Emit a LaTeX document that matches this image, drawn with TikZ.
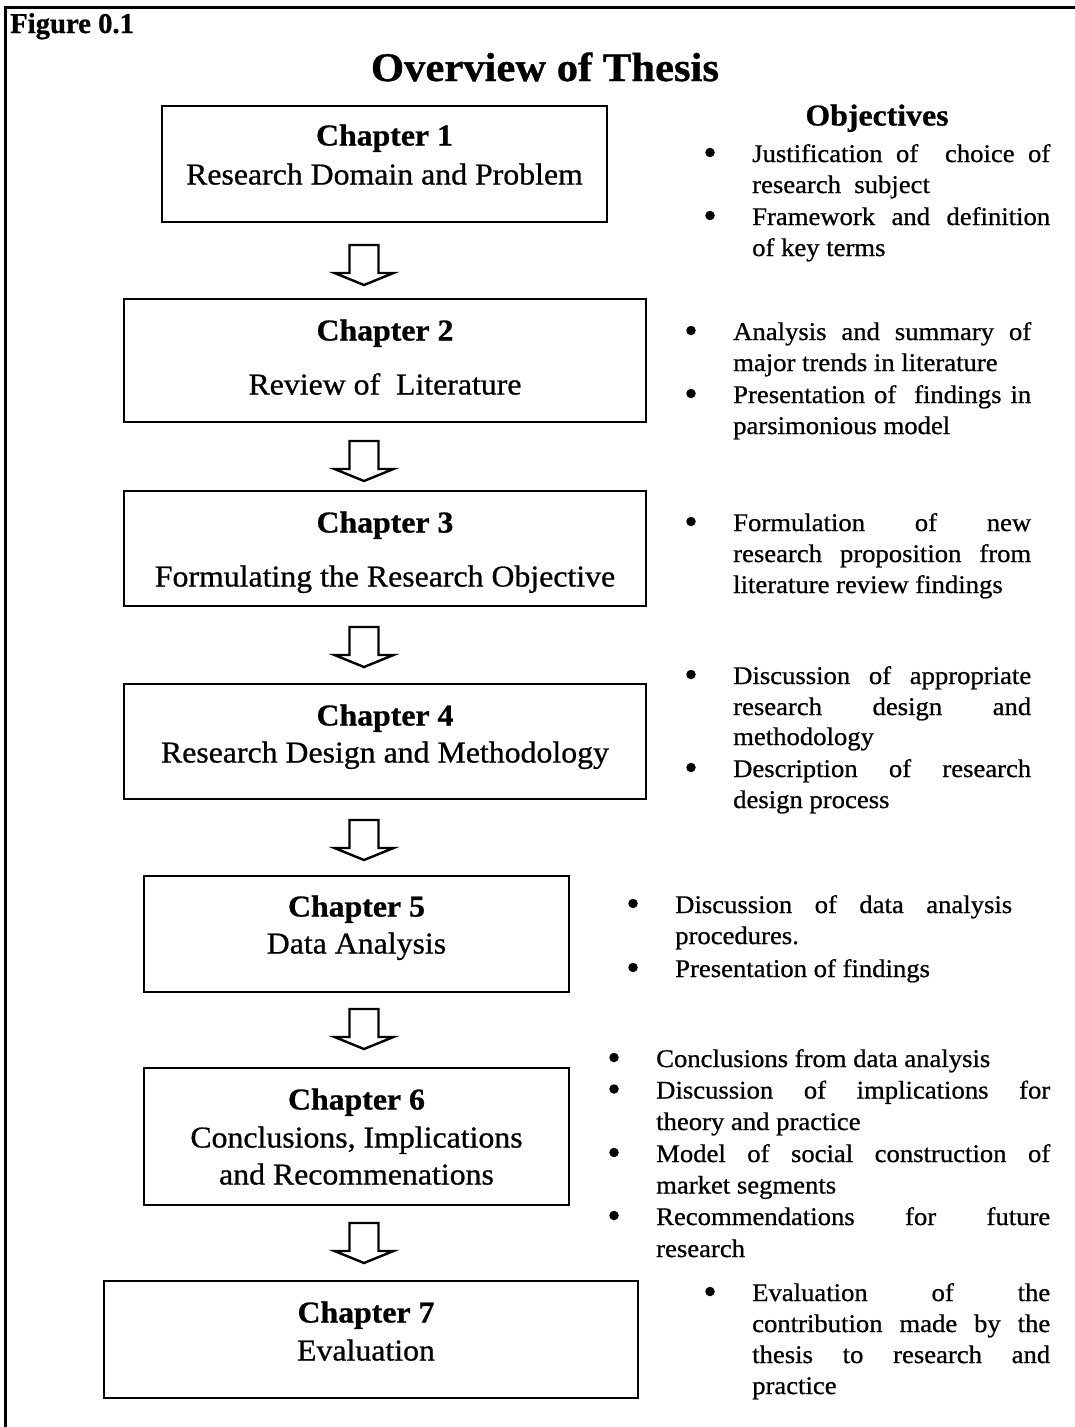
\documentclass[tikz,border=0pt]{standalone}
\usepackage{fontspec}
\setmainfont{Liberation Serif}[FakeStretch=1.05, FakeBold=0.8]
\newfontfamily\labelfont{Liberation Serif}[FakeBold=0.8]
\usetikzlibrary{calc}

\tikzset{
  chbox/.style={draw, line width=2.8pt, inner sep=0pt, fill=none},
  boxhead/.style={inner sep=0pt, anchor=base, font=\fontsize{30.3}{35}\selectfont\bfseries},
  boxtxt/.style={inner sep=0pt, anchor=base, font=\fontsize{30.3}{35}\selectfont},
  objtxt/.style={inner sep=0pt, anchor=base west, font=\fontsize{25.4}{30}\selectfont},
  dot/.style={circle, fill=black, inner sep=0pt, minimum size=9.5pt},
  blockarrow/.pic={
    \draw[line width=2.4pt, line join=miter]
      (-14.5,0) -- (-14.5,28) -- (-29.5,28) -- (0,40) -- (29.5,28)
      -- (14.5,28) -- (14.5,0) -- cycle;
  }
}

% justified line, ragged line and bullet of an objectives list
\newcommand\jl[5]{\node[objtxt] (#1) at (#2,#3) {\makebox[#4pt][s]{#5}};}
\newcommand\rl[4]{\node[objtxt] (#1) at (#2,#3) {#4};}
\newcommand\bul[3]{\node[dot] (#1) at ($(#2,#3)+(0,-9.5)$) {};}

\begin{document}
\begin{tikzpicture}[x=1pt, y=-1pt]
\useasboundingbox (0,0) rectangle (1075,1427);

% frame
\draw[line width=2.8pt, line join=miter] (1075,7.5) -- (5.3,7.5) -- (5.3,1427);

\node[inner sep=0pt, anchor=base west, font=\labelfont\bfseries\fontsize{28.7}{32}\selectfont] (fig) at (10,33) {Figure 0.1};
\node[inner sep=0pt, anchor=base, font=\fontsize{40.6}{46}\selectfont\bfseries] (title) at (545,81) {Overview of Thesis};

% chapter boxes
\node[chbox, minimum width=445pt, minimum height=116pt] (c1) at (384.5,164) {};
\node[chbox, minimum width=522pt, minimum height=123pt] (c2) at (385,360.5) {};
\node[chbox, minimum width=522pt, minimum height=115pt] (c3) at (385,548.5) {};
\node[chbox, minimum width=522pt, minimum height=115pt] (c4) at (385,741.5) {};
\node[chbox, minimum width=425pt, minimum height=116pt] (c5) at (356.5,934) {};
\node[chbox, minimum width=425pt, minimum height=137pt] (c6) at (356.5,1136.5) {};
\node[chbox, minimum width=534pt, minimum height=117pt] (c7) at (371,1339.5) {};

\node[boxhead] (h1) at (384.5,145.5) {Chapter 1};
\node[boxtxt] (t1) at (384.5,184.5) {Research Domain and Problem};
\node[boxhead] (h2) at (385,340.5) {Chapter 2};
\node[boxtxt] (t2) at (385,394.5) {Review of~ Literature};
\node[boxhead] (h3) at (385,532.5) {Chapter 3};
\node[boxtxt] (t3) at (385,586.5) {Formulating the Research Objective};
\node[boxhead] (h4) at (385,725.5) {Chapter 4};
\node[boxtxt] (t4) at (385,762.5) {Research Design and Methodology};
\node[boxhead] (h5) at (356.5,916.5) {Chapter 5};
\node[boxtxt] (t5) at (356.5,953.5) {Data Analysis};
\node[boxhead] (h6) at (356.5,1109.5) {Chapter 6};
\node[boxtxt] (t6a) at (356.5,1147.5) {Conclusions, Implications};
\node[boxtxt] (t6b) at (356.5,1184.5) {and Recommenations};
\node[boxhead] (h7) at (366,1322.5) {Chapter 7};
\node[boxtxt] (t7) at (366,1360.5) {Evaluation};

% block arrows between the chapters
\pic at (364,245) {blockarrow};
\pic at (364,441) {blockarrow};
\pic at (364,627) {blockarrow};
\pic at (364,820) {blockarrow};
\pic at (364,1009) {blockarrow};
\pic at (364,1223) {blockarrow};

% objectives
\node[boxhead] (obj) at (877,125.5) {Objectives};

\bul{b1a}{710}{162}
\jl{o1a}{752}{162}{298}{Justification of~ choice of}
\rl{o1b}{752}{193}{research~ subject}
\bul{b1b}{710}{225}
\jl{o1c}{752}{225}{298}{Framework and definition}
\rl{o1d}{752}{256}{of key terms}

\bul{b2a}{691}{340}
\jl{o2a}{733}{340}{298}{Analysis and summary of}
\rl{o2b}{733}{371}{major trends in literature}
\bul{b2b}{691}{403}
\jl{o2c}{733}{403}{298}{Presentation of~ findings in}
\rl{o2d}{733}{434}{parsimonious model}

\bul{b3a}{691}{531}
\jl{o3a}{733}{531}{298}{Formulation of new}
\jl{o3b}{733}{562}{298}{research proposition from}
\rl{o3c}{733}{593}{literature review findings}

\bul{b4a}{691}{684}
\jl{o4a}{733}{684}{298}{Discussion of appropriate}
\jl{o4b}{733}{715}{298}{research design and}
\rl{o4c}{733}{745}{methodology}
\bul{b4b}{691}{777}
\jl{o4d}{733}{777}{298}{Description of research}
\rl{o4e}{733}{808}{design process}

\bul{b5a}{633}{913}
\jl{o5a}{675}{913}{337}{Discussion of data analysis}
\rl{o5b}{675}{944}{procedures.}
\bul{b5b}{633}{977}
\rl{o5c}{675}{977}{Presentation of findings}

\bul{b6a}{614}{1067}
\rl{o6a}{656}{1067}{Conclusions from data analysis}
\bul{b6b}{614}{1098.5}
\jl{o6b}{656}{1098.5}{394}{Discussion of implications for}
\rl{o6c}{656}{1130}{theory and practice}
\bul{b6c}{614}{1162}
\jl{o6d}{656}{1162}{394}{Model of social construction of}
\rl{o6e}{656}{1193.5}{market segments}
\bul{b6d}{614}{1225}
\jl{o6f}{656}{1225}{394}{Recommendations for future}
\rl{o6g}{656}{1257}{research}

\bul{b7a}{710}{1301}
\jl{o7a}{752}{1301}{298}{Evaluation of the}
\jl{o7b}{752}{1332}{298}{contribution made by the}
\jl{o7c}{752}{1363}{298}{thesis to research and}
\rl{o7d}{752}{1394}{practice}
\end{tikzpicture}
\end{document}
